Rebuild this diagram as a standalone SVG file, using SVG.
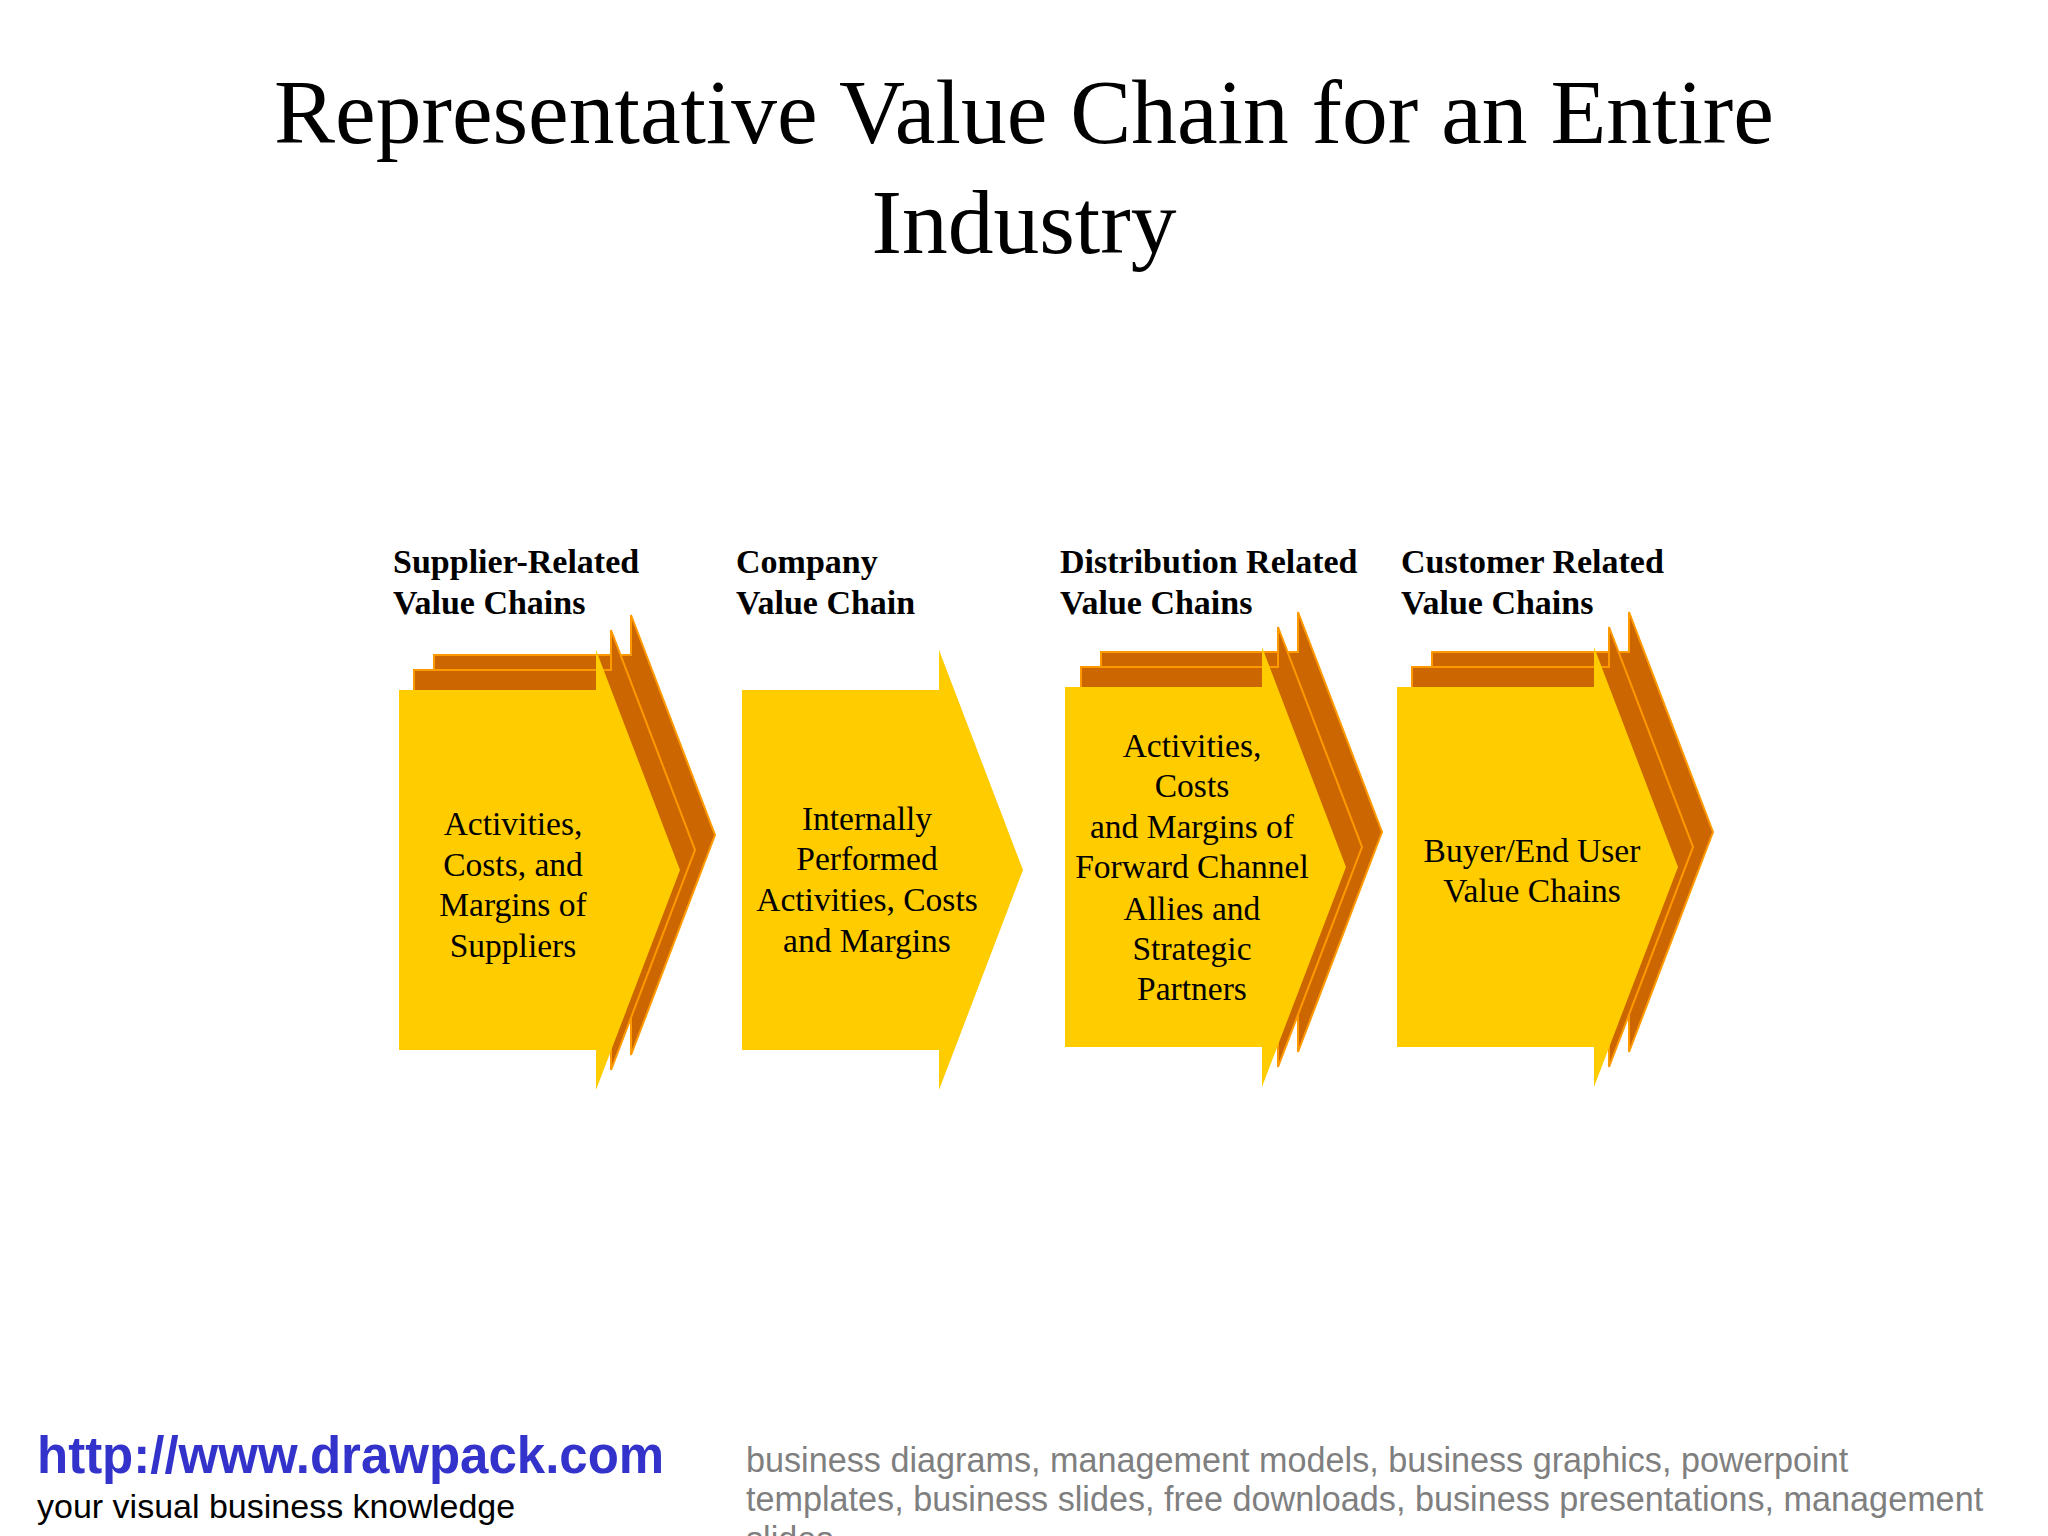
<svg xmlns="http://www.w3.org/2000/svg" xmlns:xlink="http://www.w3.org/1999/xlink" width="2048" height="1536" viewBox="0 0 2048 1536">
  <style>
    .title { font-family: "Liberation Serif", "Times New Roman", serif; font-size: 91.5px; fill: #000; text-anchor: middle; }
    .head { font-family: "Liberation Serif", "Times New Roman", serif; font-size: 34px; font-weight: bold; fill: #000; }
    .body { font-family: "Liberation Serif", "Times New Roman", serif; font-size: 33.5px; fill: #000; text-anchor: middle; }
    .front { fill: #FFCC00; }
    .layer { fill: #CC6600; stroke: #FF9900; stroke-width: 2; }
    .url { font-family: "Liberation Sans", Arial, sans-serif; font-size: 51px; font-weight: bold; fill: #3333CC; }
    .tag { font-family: "Liberation Sans", Arial, sans-serif; font-size: 34px; fill: #000; }
    .kw { font-family: "Liberation Sans", Arial, sans-serif; font-size: 34.2px; fill: #7F7F7F; }
  </style>
  <defs>
    <path id="chev" d="M0,0 H197 V-40 L281,180 L197,400 V360 H0 Z"/>
  </defs>
  <rect width="2048" height="1536" fill="#FFFFFF"/>

  <g id="title">
    <text class="title" x="1024" y="143">Representative Value Chain for an Entire</text>
    <text class="title" x="1024" y="253">Industry</text>
  </g>

  <g id="supplier">
    <text class="head" x="393" y="573">Supplier-Related</text>
    <text class="head" x="393" y="614">Value Chains</text>
    <use xlink:href="#chev" class="layer" x="434" y="655"/>
    <use xlink:href="#chev" class="layer" x="414" y="670"/>
    <use xlink:href="#chev" class="front" x="399" y="690"/>
    <text class="body" x="513" y="835">Activities,</text>
    <text class="body" x="513" y="876">Costs, and</text>
    <text class="body" x="513" y="916">Margins of</text>
    <text class="body" x="513" y="957">Suppliers</text>
  </g>

  <g id="company">
    <text class="head" x="736" y="573">Company</text>
    <text class="head" x="736" y="614">Value Chain</text>
    <use xlink:href="#chev" class="front" x="742" y="690"/>
    <text class="body" x="867" y="830">Internally</text>
    <text class="body" x="867" y="870">Performed</text>
    <text class="body" x="867" y="911">Activities, Costs</text>
    <text class="body" x="867" y="952">and Margins</text>
  </g>

  <g id="distribution">
    <text class="head" x="1060" y="573">Distribution Related</text>
    <text class="head" x="1060" y="614">Value Chains</text>
    <use xlink:href="#chev" class="layer" x="1101" y="652"/>
    <use xlink:href="#chev" class="layer" x="1081" y="667"/>
    <use xlink:href="#chev" class="front" x="1065" y="687"/>
    <text class="body" x="1192" y="757">Activities,</text>
    <text class="body" x="1192" y="797">Costs</text>
    <text class="body" x="1192" y="838">and Margins of</text>
    <text class="body" x="1192" y="878">Forward Channel</text>
    <text class="body" x="1192" y="920">Allies and</text>
    <text class="body" x="1192" y="960">Strategic</text>
    <text class="body" x="1192" y="1000">Partners</text>
  </g>

  <g id="customer">
    <text class="head" x="1401" y="573">Customer Related</text>
    <text class="head" x="1401" y="614">Value Chains</text>
    <use xlink:href="#chev" class="layer" x="1432" y="652"/>
    <use xlink:href="#chev" class="layer" x="1412" y="667"/>
    <use xlink:href="#chev" class="front" x="1397" y="687"/>
    <text class="body" x="1532" y="862">Buyer/End User</text>
    <text class="body" x="1532" y="902">Value Chains</text>
  </g>

  <g id="connectors"/>

  <g id="footer">
    <text class="url" x="37" y="1473">http://www.drawpack.com</text>
    <text class="tag" x="37" y="1518">your visual business knowledge</text>
    <text class="kw" x="746" y="1472">business diagrams, management models, business graphics, powerpoint</text>
    <text class="kw" x="746" y="1511">templates, business slides, free downloads, business presentations, management</text>
    <text class="kw" x="746" y="1551">slides</text>
  </g>
</svg>
